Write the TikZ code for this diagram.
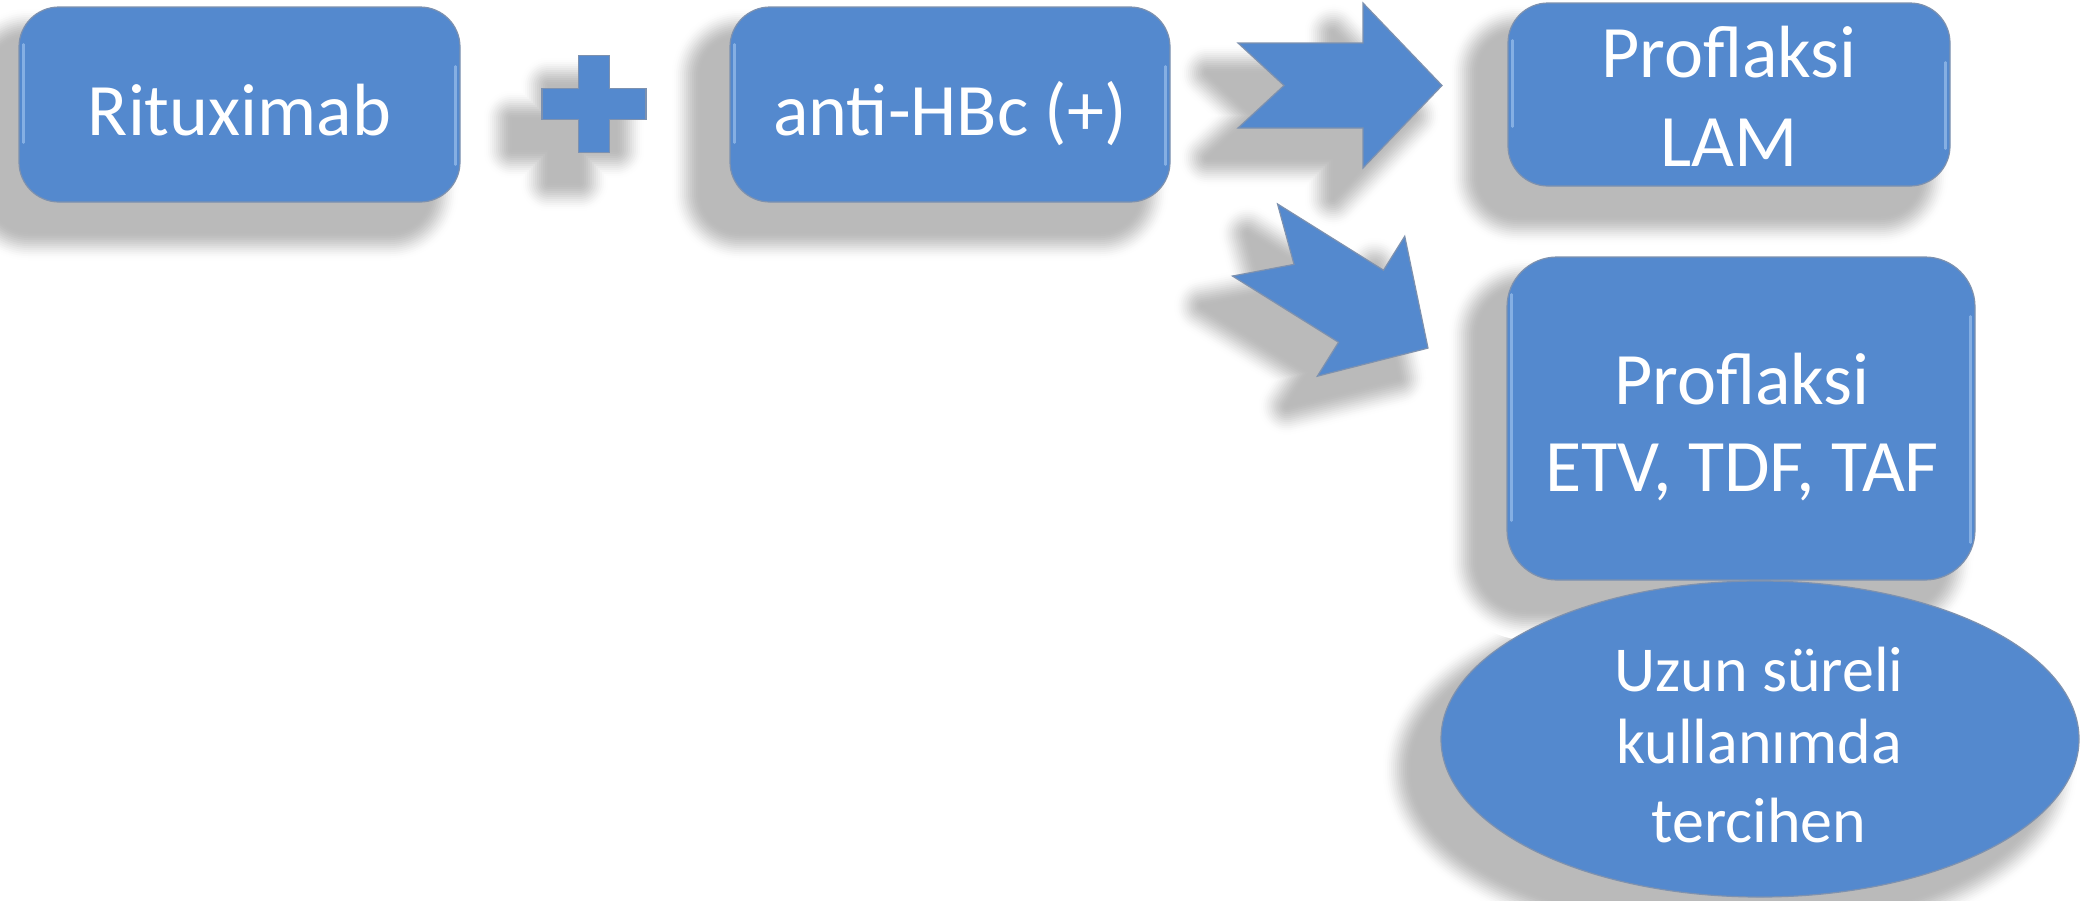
\documentclass[tikz,border=0pt]{standalone}
\usepackage{fontspec}
\setmainfont{Carlito}
\usetikzlibrary{shapes.geometric}
\definecolor{boxblue}{RGB}{84,137,206}
\definecolor{edgegray}{RGB}{125,145,175}
\definecolor{hilite}{RGB}{175,208,245}
\tikzset{
  blueshape/.style={fill=boxblue, draw=edgegray, line width=1.2pt},
  rbox/.style={blueshape, rectangle, rounded corners=40pt, inner sep=0pt},
  ebox/.style={blueshape, ellipse, inner sep=0pt},
  txt/.style={text=white, font=\fontsize{74}{88}\selectfont, inner sep=0pt},
  etxt/.style={text=white, font=\fontsize{64}{75}\selectfont, inner sep=0pt},
  hl/.style={draw=hilite, line width=2.5pt, opacity=.55, line cap=round},
  shadowshift/.style={shift={(-30,30)}},
}
% soft shadow: nested grown copies of a path, light to dark
\newcommand\softshadow[2][]{%
  \foreach \dd in {30,28,...,2}{%
    \pgfmathsetmacro\shp{27*(1-3*(\dd/30)^2+2*(\dd/30)^3)}%
    \pgfmathsetmacro\shlw{2*\dd}%
    \path[#1, draw=black!\shp!white, fill=black!\shp!white, line width=\shlw pt, line join=round] #2;%
  }%
  \path[#1, fill=black!27!white] #2;%
}
\def\arrowpath{(0,-42.5) -- (125,-42.5) -- (125,-82.5) -- (204,0) -- (125,82.5) -- (125,42.5) -- (0,42.5) -- (46,0) -- cycle}
\def\pluspath{(578.5,55.5) -- (609.5,55.5) -- (609.5,88.5) -- (646,88.5) -- (646,119.5) -- (609.5,119.5) -- (609.5,152.5) -- (578.5,152.5) -- (578.5,119.5) -- (542,119.5) -- (542,88.5) -- (578.5,88.5) -- cycle}
\begin{document}
\begin{tikzpicture}[x=1pt,y=-1pt]
\useasboundingbox[fill=white] (0,0) rectangle (2083,900);

% shadows (drawn first, behind everything)
\begin{scope}[shadowshift]
  \softshadow[rounded corners=40pt]{(19,7) rectangle (460,202)}
  \softshadow[rounded corners=40pt]{(730,7) rectangle (1170,202)}
  \softshadow[rounded corners=40pt]{(1508,3) rectangle (1950,186)}
  \softshadow{(1760,739) ellipse [x radius=319, y radius=158]}
  \softshadow[rounded corners=50pt]{(1507,257) rectangle (1975,580)}
  \softshadow{\pluspath}
  \begin{scope}[shift={(1238,85.5)}]
    \softshadow{\arrowpath}
  \end{scope}
  \begin{scope}[shift={(1255,240)}, rotate=-32]
    \softshadow{\arrowpath}
  \end{scope}
\end{scope}

% boxes
\node[rbox, minimum width=441pt, minimum height=195pt] (ritux) at (239.5,104.5) {};
\node[rbox, minimum width=440pt, minimum height=195pt] (hbc) at (950,104.5) {};
\node[rbox, minimum width=442pt, minimum height=183pt] (lam) at (1729,94.5) {};
\node[ebox, minimum width=638pt, minimum height=316pt] (ell) at (1760,739) {};
\node[rbox, rounded corners=50pt, minimum width=468pt, minimum height=323pt] (etv) at (1741,418.5) {};

% plus sign
\path[blueshape] \pluspath;

% notched block arrows
\begin{scope}[shift={(1238,85.5)}]
  \path[blueshape] \arrowpath;
\end{scope}
\begin{scope}[shift={(1255,240)}, rotate=-32]
  \path[blueshape] \arrowpath;
\end{scope}

% edge highlights
\foreach \b in {ritux,hbc,lam,etv}{
  \draw[hl] ([xshift=5pt,yshift=-38pt]\b.north west) -- ([xshift=5pt,yshift=60pt]\b.south west);
  \draw[hl] ([xshift=-5pt,yshift=-60pt]\b.north east) -- ([xshift=-5pt,yshift=38pt]\b.south east);
}

% texts
\node[txt, anchor=base] (rituxt) at (239.5,135) {Rituximab};
\node[txt, anchor=base] (hbct) at (950,135) {anti-HBc (+)};
\node[txt, anchor=base] (lamt1) at (1729,77) {Proflaksi};
\node[txt, anchor=base] (lamt2) at (1729,166) {LAM};
\node[txt, anchor=base] (etvt1) at (1742,404) {Proflaksi};
\node[txt, anchor=base] (etvt2) at (1742,491) {ETV, TDF, TAF};
\node[etxt, anchor=base] (ellt1) at (1759,691) {Uzun süreli};
\node[etxt, anchor=base] (ellt2) at (1759,763) {kullanımda};
\node[etxt, anchor=base] (ellt3) at (1759,842) {tercihen};
\end{tikzpicture}
\end{document}
